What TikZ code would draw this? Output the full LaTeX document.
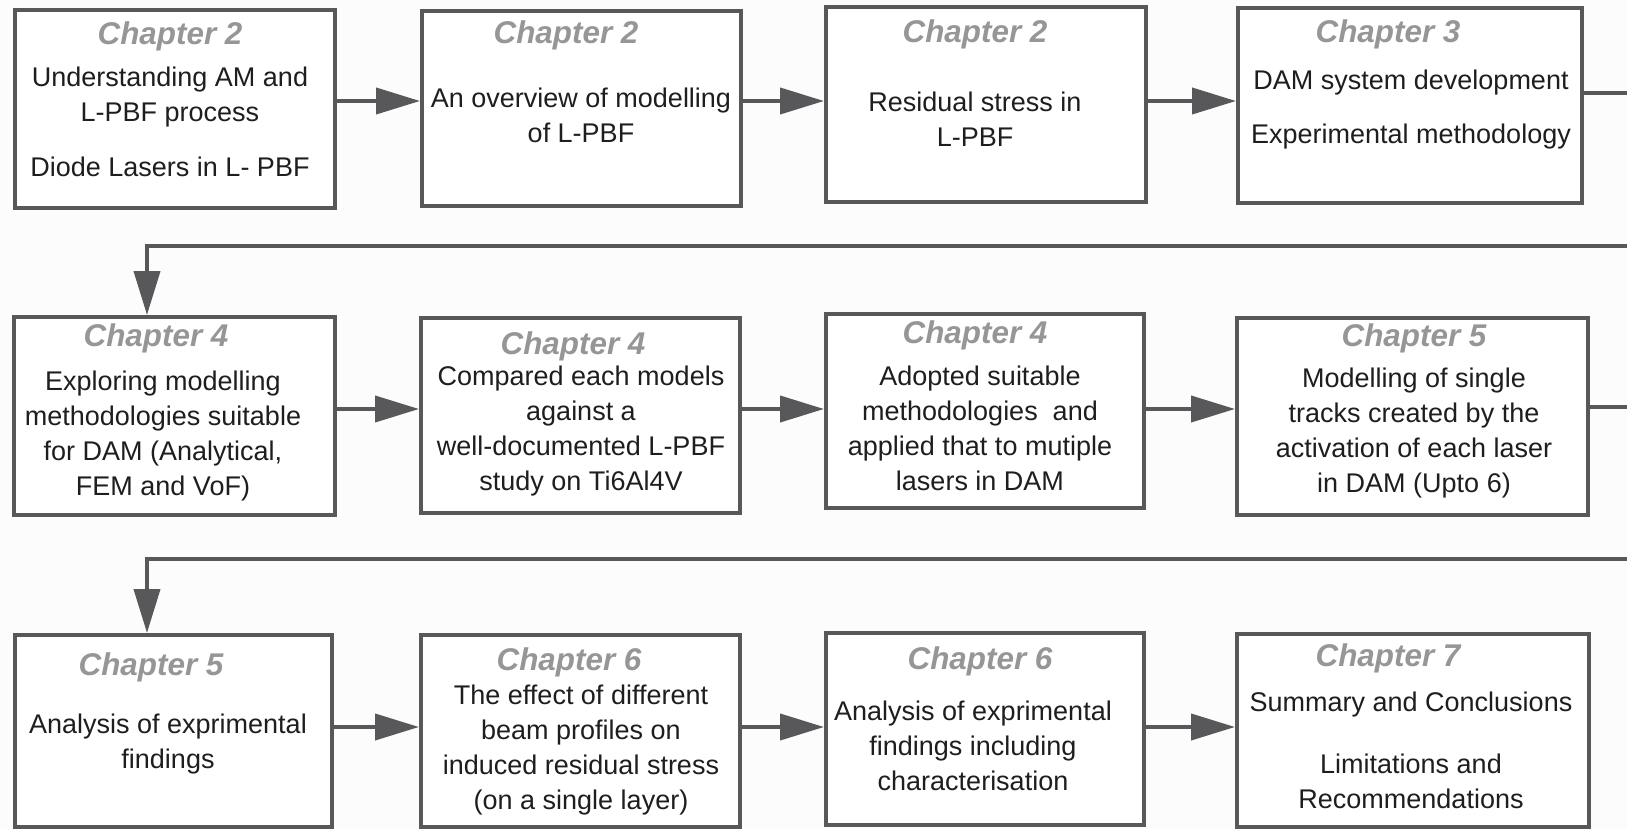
\documentclass[tikz,border=0pt]{standalone}
\usepackage{fontspec}
\setmainfont{Liberation Sans}
\usetikzlibrary{arrows.meta,calc}
\definecolor{framegray}{RGB}{88,88,90}
\definecolor{titlegray}{RGB}{150,150,150}
\definecolor{bodyblack}{RGB}{30,30,30}

\begin{document}
\begin{tikzpicture}[x=0.5pt,y=-0.5pt,
  chapbox/.style={draw=framegray, line width=2pt, fill=white, inner sep=0pt},
  chaptitle/.style={text=titlegray, font=\fontsize{15.7}{18}\selectfont\bfseries\itshape, inner sep=0pt},
  chaptext/.style={text=bodyblack, font=\fontsize{13.5}{17.5}\selectfont, align=center, inner sep=0pt},
  link/.style={draw=framegray, line width=2pt, -{Triangle[length=22pt,width=13pt]}}]
  \useasboundingbox (0,0) rectangle (1627,829);
  \clip (0,0) rectangle (1627,829);
  \fill[white!99!black] (0,0) rectangle (1627,829);

  % first row
  \node[chapbox, minimum width=160pt, minimum height=99pt] (c1) at (175,109) {};
  \node[chapbox, minimum width=159.5pt, minimum height=97.5pt] (c2) at (581.5,108.5) {};
  \node[chapbox, minimum width=160pt, minimum height=97.5pt] (c3) at (986,104.5) {};
  \node[chapbox, minimum width=172pt, minimum height=97.5pt] (c4) at (1410,105.5) {};

  \node[chaptitle] (t1) at (170,36) {Chapter 2};
  \node[chaptitle] (t2) at (566,35) {Chapter 2};
  \node[chaptitle] (t3) at (975,34) {Chapter 2};
  \node[chaptitle] (t4) at (1388,34) {Chapter 3};
  \node[chaptext] (b1) at (170,122) {Understanding AM and\\L-PBF process\\[10pt]Diode Lasers in L- PBF};
  \node[chaptext] (b2) at (581,115) {An overview of modelling\\of L-PBF};
  \node[chaptext] (b3) at (975,119) {Residual stress in\\L-PBF};
  \node[chaptext] (b4) at (1411,110) {DAM system development\\[9.5pt]Experimental methodology};

  % second row
  \node[chapbox, minimum width=160.5pt, minimum height=99pt] (c5) at (174.5,416) {};
  \node[chapbox, minimum width=159.5pt, minimum height=97.5pt] (c6) at (580.5,415.5) {};
  \node[chapbox, minimum width=159pt, minimum height=97pt] (c7) at (985,411) {};
  \node[chapbox, minimum width=175.5pt, minimum height=98.5pt] (c8) at (1412.5,416.5) {};

  \node[chaptitle] (t5) at (156,338) {Chapter 4};
  \node[chaptitle] (t6) at (573,346) {Chapter 4};
  \node[chaptitle] (t7) at (975,335) {Chapter 4};
  \node[chaptitle] (t8) at (1414,338) {Chapter 5};
  \node[chaptext] (b5) at (163,436.5) {Exploring modelling\\methodologies suitable\\for DAM (Analytical,\\FEM and VoF)};
  \node[chaptext] (b6) at (581,431) {Compared each models\\against a\\well-documented L-PBF\\study on Ti6Al4V};
  \node[chaptext] (b7) at (980,428) {Adopted suitable\\methodologies\ \ and\\applied that to mutiple\\lasers in DAM};
  \node[chaptext] (b8) at (1414,433) {Modelling of single\\tracks created by the\\activation of each laser\\in DAM (Upto 6)};

  % third row
  \node[chapbox, minimum width=158.5pt, minimum height=96pt] (c9) at (173.5,731) {};
  \node[chapbox, minimum width=159.5pt, minimum height=96pt] (c10) at (580.5,731) {};
  \node[chapbox, minimum width=159pt, minimum height=96pt] (c11) at (985,729) {};
  \node[chapbox, minimum width=176pt, minimum height=96.5pt] (c12) at (1413,730.5) {};

  \node[chaptitle] (t9) at (151,667) {Chapter 5};
  \node[chaptitle] (t10) at (569,662) {Chapter 6};
  \node[chaptitle] (t11) at (980,661) {Chapter 6};
  \node[chaptitle] (t12) at (1388,658) {Chapter 7};
  \node[chaptext] (b9) at (168,744) {Analysis of exprimental\\findings};
  \node[chaptext] (b10) at (581,750.5) {The effect of different\\beam profiles on\\induced residual stress\\(on a single layer)};
  \node[chaptext] (b11) at (973,745.5) {Analysis of exprimental\\findings including\\characterisation};
  \node[chaptext] (b12) at (1411,750) {Summary and Conclusions\\[13.5pt]Limitations and\\Recommendations};

  % levels of the connectors
  \coordinate (r1) at (0,101);
  \coordinate (r2) at (0,409);
  \coordinate (r3) at (0,727);
  \coordinate (out1) at (0,93);
  \coordinate (out2) at (0,407);
  \coordinate (edge1) at (1650,246);
  \coordinate (edge2) at (1650,559);
  \coordinate (drop1) at (147,246);
  \coordinate (drop2) at (147,559);

  \draw[link] (c1.east |- r1) -- (c2.west |- r1);
  \draw[link] (c2.east |- r1) -- (c3.west |- r1);
  \draw[link] (c3.east |- r1) -- (c4.west |- r1);
  \draw[link] (c4.east |- out1) -| (edge1) -- (drop1) -- (drop1 |- c5.north);

  \draw[link] (c5.east |- r2) -- (c6.west |- r2);
  \draw[link] (c6.east |- r2) -- (c7.west |- r2);
  \draw[link] (c7.east |- r2) -- (c8.west |- r2);
  \draw[link] (c8.east |- out2) -| (edge2) -- (drop2) -- (drop2 |- c9.north);

  \draw[link] (c9.east |- r3) -- (c10.west |- r3);
  \draw[link] (c10.east |- r3) -- (c11.west |- r3);
  \draw[link] (c11.east |- r3) -- (c12.west |- r3);
\end{tikzpicture}
\end{document}
